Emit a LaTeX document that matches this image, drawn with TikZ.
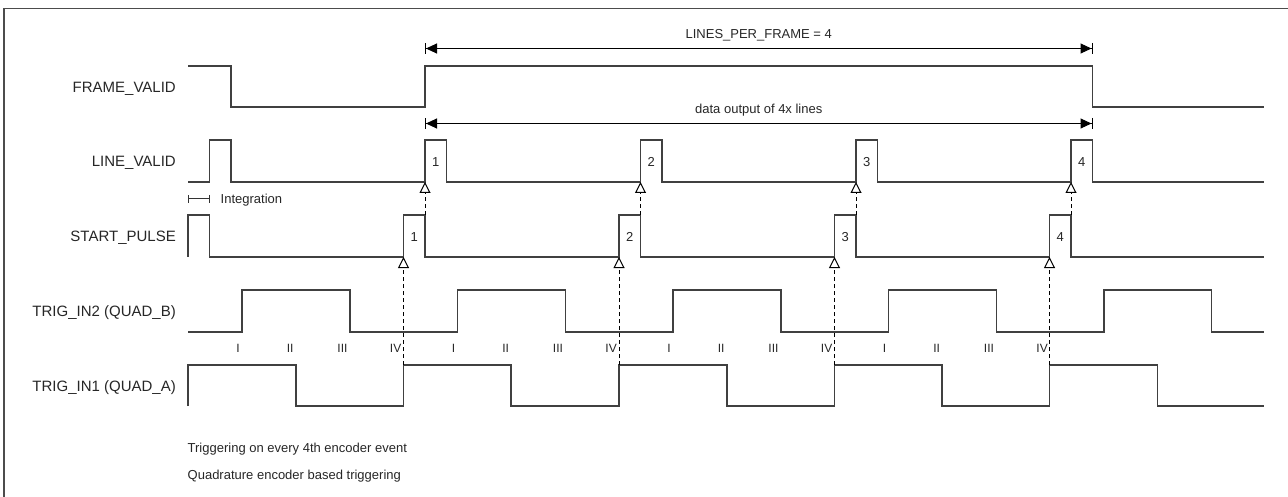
\documentclass[tikz,border=0pt]{standalone}
\usepackage{fontspec}
\setmainfont{Liberation Sans}
\usetikzlibrary{arrows.meta,positioning,calc}
\definecolor{cWave}{HTML}{404040}
\definecolor{cText}{HTML}{262626}
\tikzset{
  wave/.style  ={draw=cWave, line width=1.3pt},
  frm/.style   ={draw=black!70, line width=1.5pt},
  sig/.style   ={anchor=base east, font=\fontsize{15}{18}\selectfont, text=cText, inner sep=0pt},
  num/.style   ={anchor=base, font=\fontsize{13}{15}\selectfont, text=cText, inner sep=0pt},
  rom/.style   ={anchor=base east, font=\fontsize{12}{14}\selectfont, text=cText, inner sep=0pt},
  note/.style  ={anchor=base west, font=\fontsize{13}{15}\selectfont, text=cText, inner sep=0pt},
  top/.style   ={anchor=base, font=\fontsize{13}{15}\selectfont, text=cText, inner sep=0pt},
  dim/.style   ={{Bar[width=11pt,sep=0pt]Triangle[length=11pt,width=10pt,sep=0pt]}-{Triangle[length=11pt,width=10pt,sep=0pt]Bar[width=11pt,sep=0pt]},
                 draw=black, line width=1pt},
  span/.style  ={{Bar[width=8pt]}-{Bar[width=8pt]}, draw=black!80, line width=1pt},
  trig/.style  ={-{Triangle[open,length=11pt,width=11pt,fill=white]}, draw=black,
                 line width=1pt, dash pattern=on 4pt off 3pt},
}
\begin{document}
\begin{tikzpicture}[x=1pt,y=-1pt]
  \useasboundingbox (0,0) rectangle (1288,497);
  % frame
  \coordinate (tl) at (4,8.5);
  \coordinate (tr) at (1288,8.5);
  \coordinate (bl) at (4,497);
  \draw[frm] (tr) -- (tl) -- (bl);
  % signal names
  \node[sig] (fv)  at (176,92.5)  {FRAME\_VALID};
  \node[sig] (lv)  at (176,167)   {LINE\_VALID};
  \node[sig] (sp)  at (176,241.5) {START\_PULSE};
  \node[sig] (qb)  at (176,316)   {TRIG\_IN2 (QUAD\_B)};
  \node[sig] (qa)  at (176,391)   {TRIG\_IN1 (QUAD\_A)};
  % waveforms
  \draw[wave] (188,66) -- (231,66) -- (231,107) -- (425,107) -- (425,66) -- (1092.5,66)
    -- (1092.5,107) -- (1264,107);
  \draw[wave] (188,182) -- (209.5,182) -- (209.5,140) -- (231,140) -- (231,182)
    -- (425,182) -- (425,140) -- (446.5,140) -- (446.5,182)
    -- (640.5,182) -- (640.5,140) -- (662,140) -- (662,182)
    -- (856,182) -- (856,140) -- (877.5,140) -- (877.5,182)
    -- (1071,182) -- (1071,140) -- (1092.5,140) -- (1092.5,182) -- (1264,182);
  \draw[wave] (188,257) -- (188,215) -- (209.5,215) -- (209.5,257)
    -- (403.5,257) -- (403.5,215) -- (425,215) -- (425,257)
    -- (619,257) -- (619,215) -- (640.5,215) -- (640.5,257)
    -- (834.5,257) -- (834.5,215) -- (856,215) -- (856,257)
    -- (1049.5,257) -- (1049.5,215) -- (1071,215) -- (1071,257) -- (1264,257);
  \draw[wave] (188,332) -- (242,332) -- (242,290) -- (350,290) -- (350,332)
    -- (457.5,332) -- (457.5,290) -- (565.5,290) -- (565.5,332)
    -- (673,332) -- (673,290) -- (781,290) -- (781,332)
    -- (888.5,332) -- (888.5,290) -- (996.5,290) -- (996.5,332)
    -- (1104,332) -- (1104,290) -- (1211.5,290) -- (1211.5,332) -- (1264,332);
  \draw[wave] (188,406) -- (188,365) -- (296,365) -- (296,406)
    -- (403.5,406) -- (403.5,365) -- (511,365) -- (511,406)
    -- (619,406) -- (619,365) -- (727,365) -- (727,406)
    -- (834.5,406) -- (834.5,365) -- (942,365) -- (942,406)
    -- (1049.5,406) -- (1049.5,365) -- (1157.5,365) -- (1157.5,406) -- (1264,406);
  % encoder events and triggers
  \foreach \k in {0,...,3}
    \foreach \r [count=\j] in {I,II,III,IV}
      \node[rom] (r\k\j) at ({188+215.5*\k+53.875*\j-2},352) {\r};
  \foreach \x [count=\i] in {403.5,619,834.5,1049.5}{
    \coordinate (qa\i) at (\x,365);
    \coordinate (sl\i) at (\x,257);
    \coordinate (sh\i) at (\x+21.5,215);
    \coordinate (lv\i) at (\x+21.5,182);
    \draw[trig] (qa\i) -- (sl\i);
    \draw[trig] (sh\i) -- (lv\i);
    \node[num] (s\i) at (\x+10.75,241.5) {\i};
    \node[num] (l\i) at (\x+32.25,166.5) {\i};
  }
  % dimensions
  \coordinate (fa) at (425,48.5);
  \coordinate (fb) at (1092.5,48.5);
  \coordinate (da) at (425,123.5);
  \coordinate (db) at (1092.5,123.5);
  \draw[dim] (fa) -- (fb);
  \draw[dim] (da) -- (db);
  \node[top] (lpf) at (758.75,39) {LINES\_PER\_FRAME = 4};
  \node[top] (dat) at (758.75,114) {data output of 4x lines};
  \coordinate (ia) at (188,199);
  \coordinate (ib) at (209.5,199);
  \draw[span] (ia) -- (ib);
  \node[note] (int) at (220.5,203.5) {Integration};
  % notes
  \node[note] (n1) at (187.5,452.5) {Triggering on every 4th encoder event};
  \node[note] (n2) at (187.5,479) {Quadrature encoder based triggering};
\end{tikzpicture}
\end{document}
